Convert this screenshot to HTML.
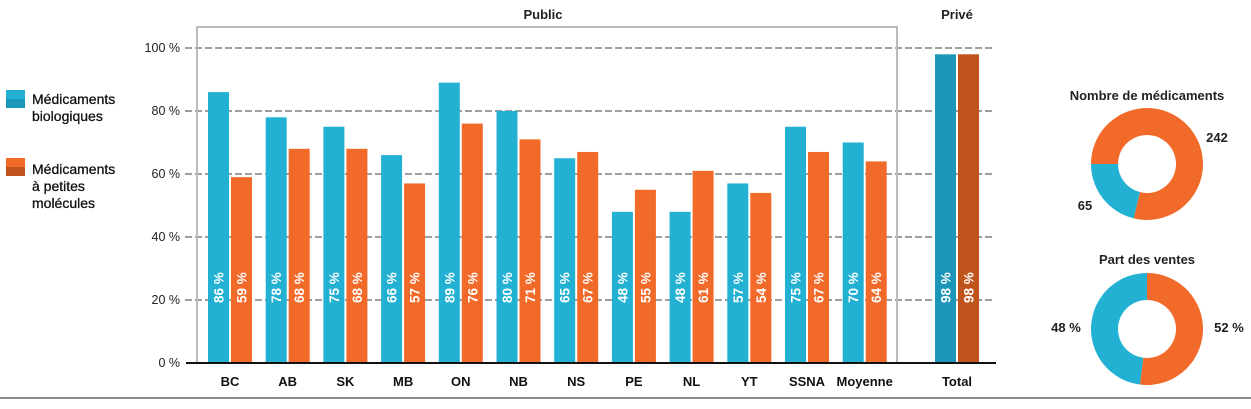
<!DOCTYPE html>
<html><head><meta charset="utf-8"><style>
body{margin:0;background:#fff;font-family:"Liberation Sans",sans-serif;}
svg text{font-family:"Liberation Sans",sans-serif;}
</style></head><body>
<svg width="1251" height="404" viewBox="0 0 1251 404">
<g id="grid"></g>
<rect x="197" y="27" width="700" height="336" fill="none" stroke="#bbb" stroke-width="2"/>
<text x="543" y="19" font-size="13" font-weight="bold" text-anchor="middle" fill="#222">Public</text>
<text x="957" y="19" font-size="13" font-weight="bold" text-anchor="middle" fill="#222">Privé</text>
<g id="bars"></g>
<line x1="186" y1="363" x2="996" y2="363" stroke="#111" stroke-width="2"/>
<g>
<rect x="6" y="90" width="19" height="9" fill="#22b0d3"/><rect x="6" y="99" width="19" height="9" fill="#1b96b8"/>
<text x="32" y="104" font-size="14" fill="#111" stroke="#111" stroke-width="0.3"><tspan>Médicaments</tspan><tspan x="32" dy="17">biologiques</tspan></text>
<rect x="6" y="158" width="19" height="9" fill="#f26a2a"/><rect x="6" y="167" width="19" height="9" fill="#c0521c"/>
<text x="32" y="174" font-size="14" fill="#111" stroke="#111" stroke-width="0.3"><tspan>Médicaments</tspan><tspan x="32" dy="17">à petites</tspan><tspan x="32" dy="17">molécules</tspan></text>
</g>
<text x="1147" y="100" font-size="13" font-weight="bold" text-anchor="middle" fill="#222">Nombre de médicaments</text>
<text x="1147" y="264" font-size="13" font-weight="bold" text-anchor="middle" fill="#222">Part des ventes</text>
<g id="donuts"></g>
<line x1="0" y1="398" x2="1251" y2="398" stroke="#666" stroke-width="1.5"/>
</svg>
<script>
const categories=["BC","AB","SK","MB","ON","NB","NS","PE","NL","YT","SSNA","Moyenne","Total"];
const bioValues=[86,78,75,66,89,80,65,48,48,57,75,70,98];
const smallValues=[59,68,68,57,76,71,67,55,61,54,67,64,98];
const yTicks=[0,20,40,60,80,100];
const donut1Values=[65,242];
const donut2Values=[48,52];
const NS="http://www.w3.org/2000/svg";
function y(v){return 363-v*3.15;}
function gx(i){return i<12?208+i*57.7:935;}
function mk(t,a,p){const e=document.createElementNS(NS,t);for(const k in a)e.setAttribute(k,a[k]);p.appendChild(e);return e;}
const grid=document.getElementById('grid');
yTicks.forEach(v=>{
 if(v>0){const l=mk('line',{x1:185,y1:y(v),x2:995,y2:y(v),stroke:'#666','stroke-width':1.3,'stroke-dasharray':'7,3'},grid);
 
 }
 const t=mk('text',{x:180,y:y(v)+4,'font-size':12.5,'text-anchor':'end',fill:'#222'},grid);
 t.textContent=v+' %';
 
 
});
const bars=document.getElementById('bars');
categories.forEach((c,i)=>{
 const x=gx(i);const tot=i===12;
 [[bioValues[i],x,tot?'#1b96b8':'#22b0d3','bio'],[smallValues[i],x+23,tot?'#c0521c':'#f26a2a','small']].forEach(([v,bx,col,s])=>{
  const r=mk('rect',{x:bx,y:y(v),width:21,height:363-y(v),fill:col},bars);
  
  
  const t=mk('text',{x:0,y:0,'font-size':13.5,'font-weight':'bold',fill:'#fff',transform:`translate(${bx+15.5},303) rotate(-90)`},bars);
  t.textContent=v+' %';
  
  
 });
 const lt=mk('text',{x:x+22,y:386,'font-size':13,'font-weight':'bold','text-anchor':'middle',fill:'#111'},bars);
 lt.textContent=c;
 
 
});
const dg=document.getElementById('donuts');
function arc(cx,cy,R,r,a0,a1){const p=a=>[Math.sin(a),-Math.cos(a)];const[s0,c0]=p(a0),[s1,c1]=p(a1);const L=(a1-a0)>Math.PI?1:0;
 return `M${cx+R*s0},${cy+R*c0}A${R},${R} 0 ${L} 1 ${cx+R*s1},${cy+R*c1}L${cx+r*s1},${cy+r*c1}A${r},${r} 0 ${L} 0 ${cx+r*s0},${cy+r*c0}Z`;}
function donut(vals,cy,startBlue,name){
 const tot=vals[0]+vals[1];const blueEnd=startBlue+vals[0]/tot*2*Math.PI;
 const b=mk('path',{d:arc(1147,cy,56,29,startBlue,blueEnd),fill:'#22b0d3'},dg);
 
 
 const o=mk('path',{d:arc(1147,cy,56,29,blueEnd,startBlue+2*Math.PI),fill:'#f26a2a'},dg);
 
 
}
donut(donut1Values,164,(270*Math.PI/180)-donut1Values[0]/(donut1Values[0]+donut1Values[1])*2*Math.PI,'donut-count');
donut(donut2Values,329,Math.PI+(1-donut2Values[0]/50)*Math.PI,'donut-sales');
[[donut1Values[1],1217,142,'donut-count-small-label'],[donut1Values[0],1085,210,'donut-count-bio-label'],[donut2Values[0]+' %',1066,332,'donut-sales-bio-label'],[donut2Values[1]+' %',1229,332,'donut-sales-small-label']].forEach(([t,x,yy,n])=>{
 const e=mk('text',{x:x,y:yy,'font-size':13,'font-weight':'bold','text-anchor':'middle',fill:'#222'},dg);
 e.textContent=t;
 
 
});
</script>
</body></html>
